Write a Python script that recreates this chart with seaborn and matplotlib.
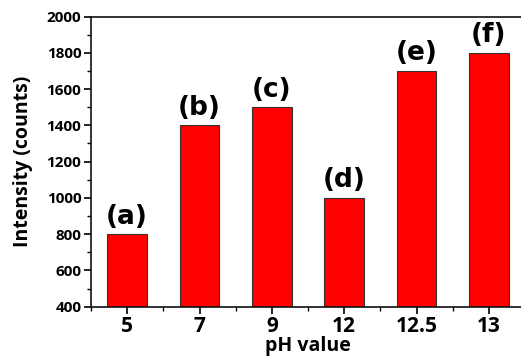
import matplotlib
matplotlib.use("Agg")
import matplotlib.pyplot as plt
import seaborn as sns
import pandas as pd
from matplotlib.ticker import MultipleLocator, FixedLocator

ph_values = ["5", "7", "9", "12", "12.5", "13"]
intensity = [800, 1400, 1500, 1000, 1700, 1800]
letters = ["(a)", "(b)", "(c)", "(d)", "(e)", "(f)"]

sns.set_style("ticks")
plt.rcParams['font.family'] = ['Open Sans', 'DejaVu Sans']
plt.rcParams['font.weight'] = 'bold'
plt.rcParams['text.color'] = 'black'
plt.rcParams['axes.labelcolor'] = 'black'
plt.rcParams['xtick.color'] = 'black'
plt.rcParams['ytick.color'] = 'black'

df = pd.DataFrame({"pH": ph_values, "Intensity": intensity})

fig = plt.figure(figsize=(5.21, 3.56), dpi=100)
ax = fig.add_axes([91/521, (356-306.7)/356, 434/521, (306.7-16.5)/356])

sns.barplot(data=df, x="pH", y="Intensity", order=ph_values, color="#ff0000",
            saturation=1, width=0.55, edgecolor="#333333", linewidth=0.8, ax=ax)

ax.set_xlim(-0.5, 5.5)
ax.set_ylim(400, 2000)
ax.yaxis.set_major_locator(MultipleLocator(200))
ax.yaxis.set_minor_locator(MultipleLocator(100))
ax.xaxis.set_minor_locator(FixedLocator([i + 0.5 for i in range(-1, 6)]))

for i, (v, lab) in enumerate(zip(intensity, letters)):
    ax.text(i, v + 25, lab, ha="center", va="bottom", fontsize=19,
            fontweight="bold", family="DejaVu Sans", color="black")

for s in ax.spines.values():
    s.set_linewidth(1.2)
    s.set_color("#111111")
ax.tick_params(axis="both", which="major", direction="out", length=5, width=1.2)
ax.tick_params(axis="both", which="minor", direction="out", length=3, width=1.0)
ax.tick_params(axis="x", labelsize=15, pad=2)
ax.tick_params(axis="y", labelsize=11, pad=2)
for t in ax.get_xticklabels() + ax.get_yticklabels():
    t.set_fontweight("bold")

ax.set_xlabel("pH value", fontsize=14, fontweight="bold", labelpad=-1)
ax.set_ylabel("Intensity (counts)", fontsize=14, fontweight="bold", labelpad=10)

fig.savefig("out.png", dpi=100)
